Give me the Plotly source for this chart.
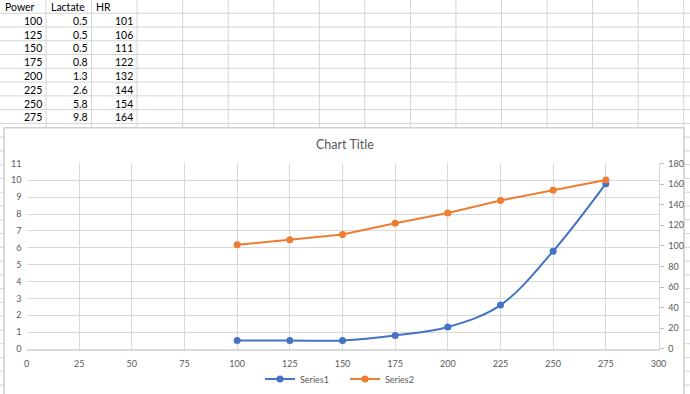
import plotly.graph_objects as go

# ---- data ----
power = [100, 125, 150, 175, 200, 225, 250, 275]
lactate = ["0.5", "0.5", "0.5", "0.8", "1.3", "2.6", "5.8", "9.8"]
hr = [101, 106, 111, 122, 132, 144, 154, 164]
headers = ["Power", "Lactate", "HR"]
series_names = ["Series1", "Series2"]
chart_title = "Chart Title"

W, H = 690, 394
GRID = "#d9d9d9"
SHEET = "#d4d4d4"
TXT = "#595959"
FONT = "Lato"

COL_W = 45.55
COL0 = 46.0          # right edge of column A
ROW_H = 13.84
ROW0 = 13.3          # bottom of header row

def px(x):
    return x / W

def py(y):
    return 1 - y / H

shapes = []
# spreadsheet gridlines (behind everything)
for k in range(15):
    xx = COL0 + k * COL_W
    shapes.append(dict(type="line", xref="paper", yref="paper", x0=px(xx), x1=px(xx),
                       y0=0, y1=1, line=dict(color=SHEET, width=1), layer="below"))
for k in range(28):
    yy = ROW0 + k * ROW_H
    shapes.append(dict(type="line", xref="paper", yref="paper", x0=0, x1=1,
                       y0=py(yy), y1=py(yy), line=dict(color=SHEET, width=1), layer="below"))
# chart area box
shapes.append(dict(type="rect", xref="paper", yref="paper", x0=px(4), x1=px(684),
                   y0=-0.05, y1=py(128.5), fillcolor="white",
                   line=dict(color="#cfcfcf", width=1.5), layer="below"))

annotations = []
sheet_font = dict(family=FONT, size=10.5, color="black")
# header row
for c, h in enumerate(headers):
    left = 0 if c == 0 else COL0 + (c - 1) * COL_W
    annotations.append(dict(text=h, x=px(left + 2.5), y=py(ROW0 / 2 + 0.5), xref="paper", yref="paper",
                            xanchor="left", yanchor="middle", showarrow=False, font=sheet_font))
# value rows
columns = [power, lactate, hr]
for c, col in enumerate(columns):
    right = COL0 + c * COL_W
    for r, v in enumerate(col):
        yc = ROW0 + r * ROW_H + ROW_H / 2 + 0.8
        annotations.append(dict(text=str(v), x=px(right - 1.8), y=py(yc), xref="paper", yref="paper",
                                xanchor="right", yanchor="middle", showarrow=False, font=sheet_font))
# chart title
annotations.append(dict(text=chart_title, x=px(344.5), y=py(145), xref="paper", yref="paper",
                        showarrow=False, xanchor="center", yanchor="middle",
                        font=dict(family=FONT, size=12.5, color=TXT)))

fig = go.Figure()
fig.add_trace(go.Scatter(
    x=power, y=[float(v) for v in lactate], name=series_names[0], mode="lines+markers",
    line=dict(color="#4472C4", width=2, shape="spline", smoothing=1),
    marker=dict(size=7, color="#4472C4"),
))
fig.add_trace(go.Scatter(
    x=power, y=hr, name=series_names[1], mode="lines+markers", yaxis="y2",
    line=dict(color="#ED7D31", width=2),
    marker=dict(size=7, color="#ED7D31"),
))

fig.update_layout(
    width=W, height=H,
    margin=dict(l=0, r=0, t=0, b=0),
    paper_bgcolor="white", plot_bgcolor="rgba(0,0,0,0)",
    font=dict(family=FONT, size=9, color=TXT),
    showlegend=True,
    legend=dict(orientation="h", x=0.5, xanchor="center", y=py(381), yanchor="middle",
                font=dict(family=FONT, size=9, color=TXT), bgcolor="rgba(0,0,0,0)",
                itemwidth=30, entrywidth=40, entrywidthmode="pixels"),
    annotations=annotations,
    shapes=shapes,
    xaxis=dict(domain=[px(26.5), px(658.5)], range=[0, 300], tick0=0, dtick=25,
               showgrid=True, gridcolor=GRID, gridwidth=1, zeroline=False,
               showline=True, linecolor=GRID, linewidth=1.5, ticks="",
               ticklabelstandoff=6,
               tickfont=dict(family=FONT, size=9, color=TXT), fixedrange=True,
               automargin=False),
    yaxis=dict(domain=[py(350.7), py(164.3)], range=[0, 11], tick0=0, dtick=1,
               showgrid=True, gridcolor=GRID, gridwidth=1, zeroline=False,
               showline=False, ticks="", ticklabelstandoff=4,
               tickfont=dict(family=FONT, size=9, color=TXT), fixedrange=True,
               automargin=False),
    yaxis2=dict(overlaying="y", side="right", range=[0, 180], tick0=0, dtick=20,
                showgrid=False, zeroline=False, showline=True, linecolor=GRID,
                ticks="outside", ticklen=4, tickcolor="#bfbfbf", ticklabelstandoff=3,
                tickfont=dict(family=FONT, size=9, color=TXT), fixedrange=True,
                automargin=False),
)

fig.write_html("out.html", config={"displayModeBar": False},
               post_script="document.body.style.margin='0px';document.body.style.overflow='hidden';")
